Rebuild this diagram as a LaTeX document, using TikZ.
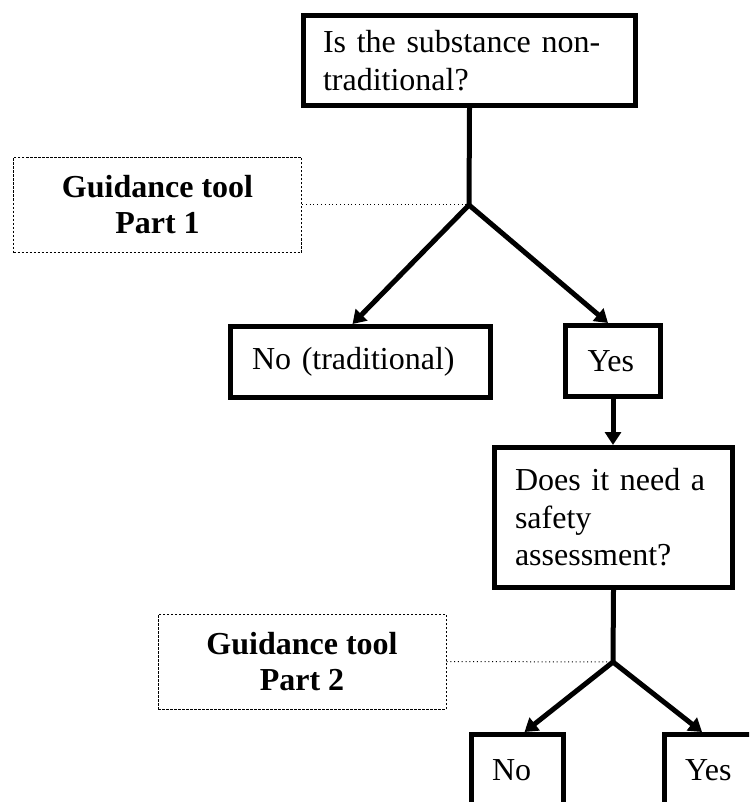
\documentclass[tikz,border=0pt]{standalone}
\usepackage{fontspec}
\setmainfont{Liberation Serif}
\usetikzlibrary{arrows.meta}
\begin{document}
\begin{tikzpicture}[x=1pt,y=-1pt,
    qbox/.style={draw, line width=5pt, anchor=north west, align=left, inner ysep=0pt, font=\fontsize{32}{37.5}\selectfont},
    gbox/.style={draw, line width=1pt, dash pattern=on 2.5pt off 1.5pt, align=center, minimum width=288pt, minimum height=95pt, font=\fontsize{32}{36}\selectfont\bfseries},
    link/.style={line width=1pt, dash pattern=on 1pt off 2.8pt},
    flow/.style={line width=5pt, -{Triangle[length=13pt,width=16pt]}},
    fork/.style={line width=5pt, {Triangle[length=13pt,width=16pt]}-{Triangle[length=13pt,width=16pt]}}]
    \useasboundingbox (0,0) rectangle (749,802);
    \clip (0,0) rectangle (749,802);
    % questions and answers
    \node[qbox, minimum width=332pt, minimum height=90pt, text width=293pt, inner xsep=19.5pt] (q1) at (301,13) {Is the substance non-\\traditional?};
    \node[qbox, minimum width=260pt, minimum height=71pt, text width=217pt, inner xsep=21.5pt] (no1) at (228,324) {No (traditional)};
    \node[qbox, minimum width=95pt, minimum height=71pt, text width=51pt, inner xsep=22pt] (yes1) at (563,323) {Yes};
    \node[qbox, minimum width=238pt, minimum height=140pt, text width=197pt, inner xsep=20.5pt] (q2) at (492,445) {Does it need a\\safety\\assessment?};
    \node[qbox, minimum width=92pt, minimum height=71pt, text width=51pt, inner xsep=20.5pt] (no2) at (469,732) {No};
    \node[qbox, minimum width=95pt, minimum height=71pt, text width=54pt, inner xsep=20.5pt] (yes2) at (662,732) {Yes};
    % guidance tool parts
    \foreach \i/\x/\y in {1/157.5/205, 2/302/661.5}
        \node[gbox] (g\i) at (\x,\y) {Guidance tool\\Part \i};
    \coordinate (br1) at (469,205);
    \coordinate (br2) at (613,662);
    % connectors
    \draw[line width=5pt] (q1.south) -- (br1);
    \draw[fork] ([xshift=-8pt]no1.north) -- (br1) -- ([xshift=-5pt]yes1.north);
    \draw[flow] (yes1.south) -- (yes1.south |- q2.north);
    \draw[line width=5pt] (q2.south) -- (br2);
    \draw[fork] ([xshift=7pt]no2.north) -- (br2) -- ([xshift=-10pt]yes2.north);
    \draw[link] (g1.east) -- (br1);
    \draw[link] (g2.east) -- (br2);
\end{tikzpicture}
\end{document}
